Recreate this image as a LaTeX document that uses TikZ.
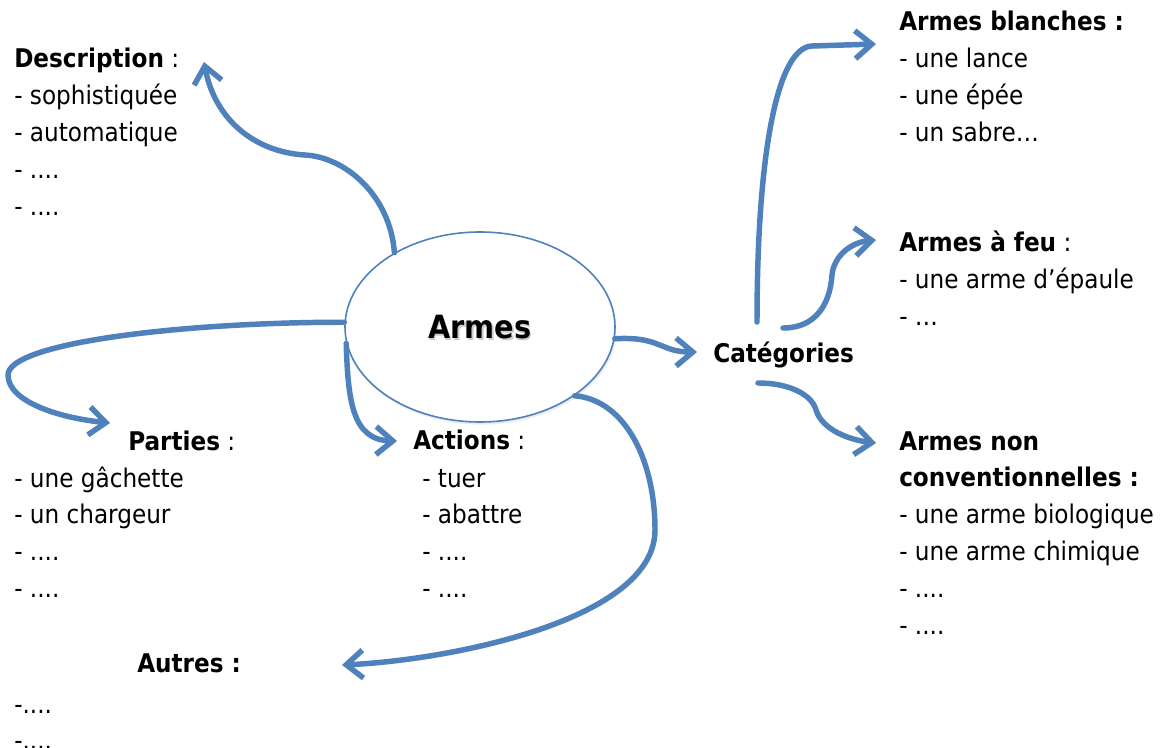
\documentclass[tikz,border=0pt]{standalone}
\usepackage{fontspec}
\setmainfont{DejaVu Sans Condensed}
\usetikzlibrary{arrows.meta,shapes.geometric,shadows}
\definecolor{armblue}{RGB}{79,129,189}
\begin{document}
\begin{tikzpicture}[x=0.75pt,y=-0.75pt,
  txt/.style={font=\fontsize{19.3}{27.6}\selectfont, align=left, inner sep=0pt, anchor=base west},
  conn/.style={draw=armblue, line width=4.1pt, line cap=round, line join=round,
    -{Straight Barb[length=12.5pt,width=21pt]},
    preaction={draw=black!10, transform canvas={shift={(1.2pt,-1.8pt)}}}},
  hub/.style={ellipse, draw=armblue, line width=1.2pt, fill=white,
    minimum width=202.5pt, minimum height=142.5pt, inner sep=0pt,
    drop shadow={opacity=0.15, shadow xshift=1pt, shadow yshift=-2pt}}]
\useasboundingbox (0,0) rectangle (1163,748);

% central node
\node[hub] (ell) at (480,327) {};
\node[font=\fontsize{24}{28}\selectfont\bfseries, text=black!20, inner sep=0pt] (armesShadow) at (481.5,329.5) {Armes};
\node[font=\fontsize{24}{28}\selectfont\bfseries, inner sep=0pt] (armes) at (480,327) {Armes};

% text blocks (anchor = baseline of the last line)
\node[txt] (desc) at (14,215.2) {\textbf{Description} :\\- sophistiquée\\- automatique\\- ....\\- ....};
\node[txt] (blanches) at (899,141.4) {\textbf{Armes blanches :}\\- une lance\\- une épée\\- un sabre…};
\node[txt] (feu) at (899,325.6) {\textbf{Armes à feu} :\\- une arme d’épaule\\- …};
\node[txt] (cat) at (713,363) {\textbf{Catégories}};
\node[txt] (nonconv) at (899,634) {\textbf{Armes non}\\\textbf{conventionnelles :}\\- une arme biologique\\- une arme chimique\\- ....\\- ....};
\node[txt] (partiesT) at (128,450) {\textbf{Parties} :};
\node[txt] (parties) at (14,597.4) {- une gâchette\\- un chargeur\\- ....\\- ....};
\node[txt] (actionsT) at (413,449) {\textbf{Actions} :};
\node[txt] (actions) at (422,597.4) {- tuer\\- abattre\\- ....\\- ....};
\node[txt] (autresT) at (137,672) {\textbf{Autres :}};
\node[txt] (autres) at (14,749.8) {-....\\-....};

% free ends
\coordinate (descTip) at (204,62);
\coordinate (partTip) at (110,423);
\coordinate (actTip) at (397,441);
\coordinate (autTip) at (342,665);
\coordinate (catTip) at (697,352);
\coordinate (catA) at (757,322);
\coordinate (catB) at (783,328);
\coordinate (catC) at (758,383);
\coordinate (blTip) at (876,44);
\coordinate (feuTip) at (876,240);
\coordinate (ncTip) at (876,443);

% connectors
\draw[conn] (ell.139) .. controls (390,195) and (345,157) .. (305,155)
   .. controls (255,152) and (215,120) .. (descTip);
\draw[conn] (ell.178) .. controls (190,322) and (8,342) .. (8,375)
   .. controls (8,402) and (60,418) .. (partTip);
\draw[conn] (ell.187) .. controls (348,400) and (352,440) .. (actTip);
\draw[conn] (ell.-36) .. controls (625,400) and (655,460) .. (655,530)
   .. controls (655,620) and (450,660) .. (autTip);
\draw[conn] (ell.-5) .. controls (660,336) and (660,352) .. (catTip);
\draw[conn] (catA) .. controls (757,150) and (778,47) .. (812,46) -- (blTip);
\draw[conn] (catB) .. controls (815,328) and (830,305) .. (832,275)
   .. controls (834,255) and (852,242) .. (feuTip);
\draw[conn] (catC) .. controls (790,383) and (812,395) .. (816,410)
   .. controls (822,430) and (850,440) .. (ncTip);
\end{tikzpicture}
\end{document}
